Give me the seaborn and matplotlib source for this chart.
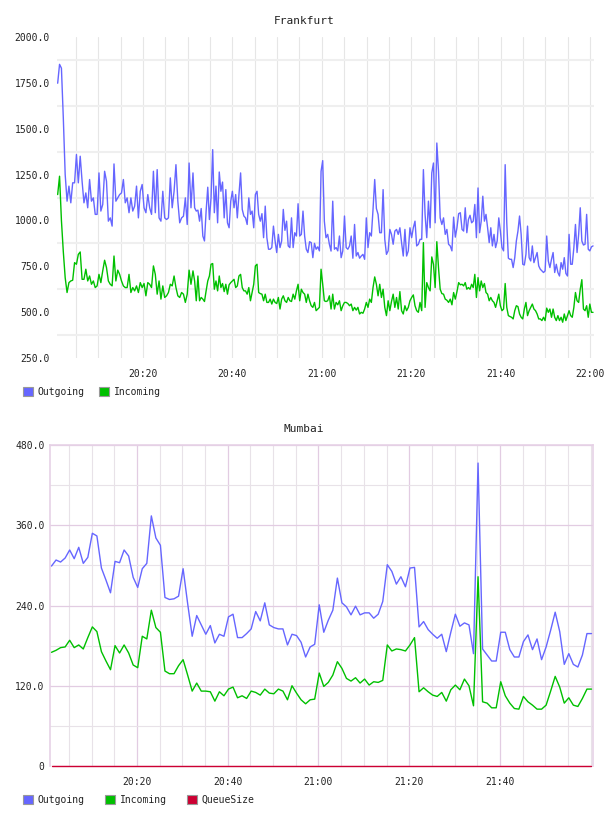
import numpy as np
import pandas as pd
import matplotlib
matplotlib.use("Agg")
import matplotlib.pyplot as plt
import matplotlib.dates as mdates
from matplotlib.patches import Patch
from matplotlib.ticker import FuncFormatter, MultipleLocator, FixedLocator
import seaborn as sns

# ---------------- data ----------------
DAY = "2024-01-01 "

# Frankfurt: four half-hour segments, evenly sampled inside each
FRA_SEG_SPANS = [("20:00:55", "20:30:44"), ("20:31:11", "21:00:56"),
                 ("21:01:19", "21:30:59"), ("21:31:22", "22:00:40")]

FRA_OUT_1 = [1748, 1851, 1830, 1560, 1250, 1105, 1187, 1096, 1205, 1205,
             1359, 1205, 1350, 1214, 1096, 1150, 1069, 1223, 1105, 1123,
             1033, 1033, 1259, 1051, 1087, 1268, 1214, 996, 1014, 969,
             1308, 1105, 1123, 1141, 1150, 1223, 1096, 1123, 1042, 1123,
             1051, 1078, 1187, 1014, 1159, 1196, 1069, 1042, 1141, 1069,
             1033, 1268, 1042, 1277, 1014, 996, 1159, 1014, 1005, 1014,
             1232, 1069, 1159, 1304, 1105, 987, 1014, 1023, 1123, 978,
             1313, 1069]
FRA_OUT_2 = [1259, 1069, 1051, 1056, 996, 1065, 915, 888, 1051, 1181,
             1005, 1123, 1386, 1042, 1187, 987, 1264, 1159, 1209, 1014,
             1168, 987, 960, 1105, 1159, 1069, 1141, 1014, 1141, 1259,
             1060, 1024, 1014, 978, 1123, 1033, 1051, 960, 1141, 1159,
             1033, 996, 1037, 906, 1078, 906, 843, 843, 852, 969,
             888, 825, 924, 852, 888, 1060, 946, 996, 861, 852,
             1014, 852, 933, 915, 1091, 915, 924, 1051, 915, 843,
             825, 884, 879, 797, 875, 843, 856, 834, 1268, 1326,
             996, 906]
FRA_OUT_3 = [924, 870, 833, 1105, 843, 852, 834, 915, 797, 834,
             1024, 852, 843, 861, 915, 794, 978, 806, 825, 794,
             806, 815, 788, 1014, 852, 933, 915, 1060, 1223, 1065,
             1033, 933, 933, 1168, 897, 815, 834, 951, 924, 870,
             942, 951, 924, 960, 879, 806, 951, 806, 834, 960,
             906, 960, 996, 861, 870, 897, 897, 1277, 1033, 906,
             1105, 960, 1259, 1313, 987, 1422, 1268, 1014, 978, 1014,
             924, 951, 870, 861, 834, 1018, 909, 960, 1037, 1042]
FRA_OUT_4 = [951, 942, 1069, 933, 1005, 1028, 987, 996, 1087, 906,
             1177, 933, 996, 1132, 996, 1033, 960, 879, 960, 861,
             924, 852, 888, 1014, 942, 852, 834, 1304, 987, 794,
             788, 788, 743, 797, 888, 942, 1024, 924, 761, 757,
             815, 969, 797, 779, 861, 770, 797, 825, 752, 734,
             725, 716, 725, 915, 779, 743, 788, 825, 716, 761,
             716, 697, 770, 734, 797, 711, 697, 924, 761, 761,
             852, 978, 825, 924, 1069, 888, 866, 870, 1033, 843,
             834, 856, 861]

FRA_IN_1 = [1141, 1241, 1000, 830, 688, 607, 661, 670, 674, 770,
            761, 815, 828, 679, 679, 734, 670, 697, 652, 670,
            634, 643, 706, 661, 725, 783, 743, 670, 652, 643,
            806, 670, 729, 706, 670, 643, 634, 634, 706, 607,
            634, 616, 643, 607, 661, 634, 656, 589, 661, 652,
            634, 752, 706, 598, 670, 571, 643, 580, 589, 607,
            652, 643, 697, 634, 589, 580, 607, 598, 553, 598,
            729, 652]
FRA_IN_2 = [725, 670, 562, 697, 562, 580, 571, 558, 616, 670,
            697, 761, 765, 625, 670, 616, 697, 634, 656, 612,
            652, 598, 649, 661, 670, 679, 634, 643, 697, 706,
            634, 616, 616, 598, 634, 562, 607, 652, 752, 761,
            607, 601, 598, 562, 598, 553, 553, 571, 544, 571,
            553, 547, 580, 517, 571, 589, 562, 553, 580, 562,
            558, 598, 571, 616, 652, 562, 625, 607, 598, 553,
            598, 562, 535, 526, 553, 508, 517, 526, 734, 652,
            562, 558]
FRA_IN_3 = [562, 589, 517, 598, 517, 553, 540, 562, 508, 535,
            553, 553, 547, 535, 544, 508, 526, 511, 526, 490,
            499, 494, 517, 553, 526, 571, 553, 634, 692, 652,
            589, 652, 580, 625, 526, 481, 562, 508, 558, 598,
            526, 580, 517, 612, 508, 490, 535, 508, 526, 562,
            580, 594, 535, 508, 499, 553, 508, 879, 526, 661,
            634, 616, 801, 761, 634, 884, 743, 625, 601, 598,
            571, 565, 553, 571, 540, 607, 571, 612, 661, 649]
FRA_IN_4 = [652, 643, 661, 625, 634, 625, 652, 634, 706, 580,
            688, 616, 670, 634, 656, 607, 598, 562, 580, 562,
            553, 526, 562, 598, 535, 508, 517, 656, 526, 481,
            476, 472, 463, 508, 535, 530, 490, 472, 463, 517,
            553, 481, 508, 526, 544, 517, 508, 490, 463, 463,
            454, 472, 454, 522, 499, 517, 472, 517, 472, 454,
            481, 454, 472, 445, 490, 454, 481, 508, 481, 472,
            526, 607, 562, 553, 625, 677, 517, 508, 535, 472,
            544, 499, 499]

# Mumbai: one sample per minute from 20:01:10
MUM_START = "20:01:10"
MUM_OUT = [299, 308, 305, 311, 323, 310, 327, 303, 312, 348,
           344, 296, 278, 259, 306, 304, 323, 314, 282, 267,
           295, 303, 374, 341, 330, 252, 249, 250, 254, 295,
           243, 194, 225, 211, 197, 210, 184, 197, 194, 223,
           227, 192, 192, 198, 205, 231, 217, 244, 211, 207,
           205, 205, 181, 197, 195, 185, 163, 178, 182, 241,
           200, 218, 233, 281, 244, 238, 226, 239, 226, 229,
           229, 221, 227, 246, 301, 291, 272, 283, 268, 296,
           297, 208, 216, 204, 197, 191, 197, 171, 200, 227,
           209, 214, 211, 168, 453, 175, 166, 157, 157, 200,
           200, 174, 163, 163, 186, 196, 174, 190, 159, 178,
           203, 230, 201, 152, 168, 152, 148, 166, 198, 198]
MUM_IN = [170, 173, 177, 178, 188, 177, 181, 175, 192, 208,
          201, 171, 157, 144, 180, 169, 181, 169, 151, 147,
          194, 190, 233, 207, 200, 142, 138, 138, 150, 159,
          136, 112, 124, 112, 112, 111, 97, 111, 105, 115,
          118, 102, 105, 101, 112, 110, 106, 115, 109, 108,
          115, 112, 99, 120, 109, 99, 93, 99, 100, 139,
          119, 125, 136, 156, 146, 131, 127, 132, 124, 130,
          121, 126, 125, 128, 181, 172, 175, 174, 172, 181,
          192, 111, 117, 111, 106, 104, 110, 97, 114, 121,
          114, 130, 120, 90, 283, 96, 94, 87, 87, 126,
          105, 94, 86, 85, 104, 96, 91, 85, 85, 91,
          112, 134, 118, 94, 102, 91, 89, 101, 115, 115]
MUM_QUEUE = [0] * 120

FRA_YTICKS = [250, 500, 750, 1000, 1250, 1500, 1750, 2000]
FRA_YGRID = [375, 625, 875, 1125, 1375, 1625, 1875]
MUM_YTICKS = [0, 120, 240, 360, 480]
MUM_XTICKS = ["20:20", "20:40", "21:00", "21:20", "21:40"]

C_OUT, C_IN, C_Q = "#6666ff", "#00c000", "#cc0033"

# ---------------- frames ----------------
fra_out_segs = [FRA_OUT_1, FRA_OUT_2, FRA_OUT_3, FRA_OUT_4]
fra_in_segs = [FRA_IN_1, FRA_IN_2, FRA_IN_3, FRA_IN_4]
fra_time = np.concatenate([
    pd.date_range(DAY + s, DAY + e, periods=len(v)).values
    for v, (s, e) in zip(fra_out_segs, FRA_SEG_SPANS)])
fra_df = pd.concat([
    pd.DataFrame({"time": fra_time, "value": sum(fra_out_segs, []), "series": "Outgoing"}),
    pd.DataFrame({"time": fra_time, "value": sum(fra_in_segs, []), "series": "Incoming"}),
], ignore_index=True)

mum_time = pd.date_range(DAY + MUM_START, periods=len(MUM_OUT), freq="1min")
mum_df = pd.concat([
    pd.DataFrame({"time": mum_time, "value": MUM_OUT, "series": "Outgoing"}),
    pd.DataFrame({"time": mum_time, "value": MUM_IN, "series": "Incoming"}),
    pd.DataFrame({"time": mum_time, "value": MUM_QUEUE, "series": "QueueSize"}),
], ignore_index=True)

# ---------------- style ----------------
sns.set_theme(style="white")
plt.rcParams["font.family"] = ["DejaVu Sans Mono", "DejaVu Sans"]

fig = plt.figure(figsize=(6.08, 8.16), dpi=100)
W, H = 608, 816
ax1 = fig.add_axes([57 / W, 1 - 358 / H, 537 / W, 321 / H])
ax2 = fig.add_axes([50 / W, 1 - 766 / H, 543 / W, 321 / H])

pal = {"Outgoing": C_OUT, "Incoming": C_IN, "QueueSize": C_Q}

sns.lineplot(data=fra_df, x="time", y="value", hue="series", palette=pal,
             estimator=None, linewidth=1.0, legend=False, ax=ax1)
sns.lineplot(data=mum_df, x="time", y="value", hue="series", palette=pal,
             estimator=None, linewidth=1.0, legend=False, ax=ax2)
for ln in ax2.lines:
    ln.set_clip_on(False)
    ln.set_zorder(3)

fmt = FuncFormatter(lambda v, p: "0" if v == 0 else f"{v:.1f}")

# Frankfurt axes
ax1.set_xlim(pd.Timestamp(DAY + "20:00:46"), pd.Timestamp(DAY + "22:00:53"))
ax1.set_ylim(250, 2000)
ax1.xaxis.set_major_locator(mdates.MinuteLocator(byminute=[0, 20, 40]))
ax1.xaxis.set_minor_locator(mdates.MinuteLocator(byminute=range(0, 60, 5)))
ax1.xaxis.set_major_formatter(mdates.DateFormatter("%H:%M"))
ax1.yaxis.set_major_locator(FixedLocator(FRA_YTICKS))
ax1.yaxis.set_minor_locator(FixedLocator(FRA_YGRID))
ax1.yaxis.set_major_formatter(fmt)
ax1.grid(False)
ax1.grid(True, which="both", axis="x", color="#e6e6e6", linewidth=0.8)
ax1.grid(True, which="minor", axis="y", color="#efefef", linewidth=1.5)
ax1.set_axisbelow(True)
for s in ax1.spines.values():
    s.set_visible(False)
ax1.tick_params(axis="both", which="both", length=0, labelsize=7, colors="#222222")
ax1.tick_params(axis="x", pad=8)
ax1.tick_params(axis="y", pad=5)
ax1.set_xlabel("")
ax1.set_ylabel("")

# Mumbai axes
ax2.set_xlim(pd.Timestamp(DAY + "20:00:50"), pd.Timestamp(DAY + "22:00:30"))
ax2.set_ylim(0, 480)
ax2.xaxis.set_major_locator(FixedLocator(
    [mdates.date2num(pd.Timestamp(DAY + t)) for t in MUM_XTICKS]))
ax2.xaxis.set_minor_locator(mdates.MinuteLocator(byminute=range(0, 60, 5)))
ax2.xaxis.set_major_formatter(mdates.DateFormatter("%H:%M"))
ax2.yaxis.set_major_locator(FixedLocator(MUM_YTICKS))
ax2.yaxis.set_minor_locator(MultipleLocator(60))
ax2.yaxis.set_major_formatter(fmt)
ax2.grid(False)
ax2.grid(True, which="minor", axis="both", color="#e8e2e8", linewidth=0.8)
ax2.grid(True, which="major", axis="both", color="#e2cce2", linewidth=0.9)
ax2.set_axisbelow(True)
for name, s in ax2.spines.items():
    s.set_color("#e6d2e6")
    s.set_linewidth(1.2)
ax2.spines["bottom"].set_visible(False)
ax2.tick_params(axis="both", which="both", length=0, labelsize=7, colors="#222222")
ax2.tick_params(axis="x", pad=8)
ax2.tick_params(axis="y", pad=4)
ax2.set_xlabel("")
ax2.set_ylabel("")

# titles
fig.text(304 / W, 1 - 20.5 / H, "Frankfurt", ha="center", va="center",
         fontsize=8, color="#222222")
fig.text(304 / W, 1 - 429 / H, "Mumbai", ha="center", va="center",
         fontsize=8, color="#222222")

# legends
def make_legend(labels, y, spacing):
    handles = [Patch(facecolor=pal[l], edgecolor="#999999", linewidth=0.8, label=l)
               for l in labels]
    fig.legend(handles=handles, loc="center left", bbox_to_anchor=(23 / W, 1 - y / H),
               ncol=len(labels), frameon=False, fontsize=7, handlelength=1.0,
               handleheight=1.0, handletextpad=0.5, columnspacing=spacing,
               borderaxespad=0, borderpad=0, labelcolor="#222222")

make_legend(["Outgoing", "Incoming"], 392, 1.5)
make_legend(["Outgoing", "Incoming", "QueueSize"], 800, 2.1)

fig.savefig("out.png", dpi=100)
